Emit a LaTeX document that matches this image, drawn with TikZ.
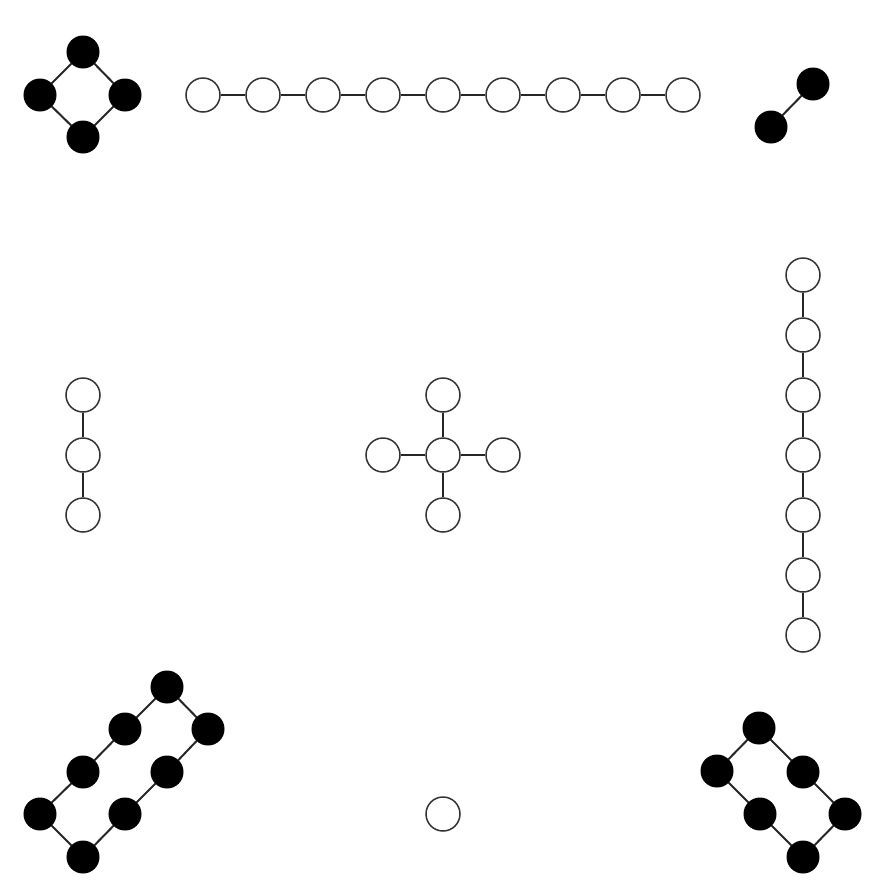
\documentclass[tikz,border=0pt]{standalone}
\usepackage{tikz}
\tikzstyle{wnode}=[circle,draw=black!80,fill=white,line width=0.45mm,inner sep=0pt,minimum size=10.2mm]
\tikzstyle{bnode}=[circle,draw=black,fill=black,line width=0.3mm,inner sep=0pt,minimum size=9.6mm]
\tikzstyle{gedge}=[line width=0.6mm,black!85]
\begin{document}
\begin{tikzpicture}[x=0.3mm,y=-0.3mm]
\useasboundingbox (0,0) rectangle (888,892);
% square
\node[bnode] (S1) at (83,52) {};
\node[bnode] (S2) at (40,95) {};
\node[bnode] (S3) at (125,95) {};
\node[bnode] (S4) at (83,137) {};
\draw[gedge](S1)--(S2);\draw[gedge](S2)--(S4);\draw[gedge](S4)--(S3);\draw[gedge](S3)--(S1);
% top chain
\node[wnode] (T1) at (203,95) {};
\node[wnode] (T2) at (263,95) {};
\node[wnode] (T3) at (323,95) {};
\node[wnode] (T4) at (383,95) {};
\node[wnode] (T5) at (443,95) {};
\node[wnode] (T6) at (503,95) {};
\node[wnode] (T7) at (563,95) {};
\node[wnode] (T8) at (623,95) {};
\node[wnode] (T9) at (683,95) {};
\draw[gedge](T1)--(T2);\draw[gedge](T2)--(T3);\draw[gedge](T3)--(T4);\draw[gedge](T4)--(T5);
\draw[gedge](T5)--(T6);\draw[gedge](T6)--(T7);\draw[gedge](T7)--(T8);\draw[gedge](T8)--(T9);
% pair
\node[bnode] (P1) at (813,84) {};
\node[bnode] (P2) at (771,127) {};
\draw[gedge](P1)--(P2);
% right column
\node[wnode] (R1) at (803,275) {};
\node[wnode] (R2) at (803,335) {};
\node[wnode] (R3) at (803,395) {};
\node[wnode] (R4) at (803,455) {};
\node[wnode] (R5) at (803,515) {};
\node[wnode] (R6) at (803,575) {};
\node[wnode] (R7) at (803,635) {};
\draw[gedge](R1)--(R2);\draw[gedge](R2)--(R3);\draw[gedge](R3)--(R4);
\draw[gedge](R4)--(R5);\draw[gedge](R5)--(R6);\draw[gedge](R6)--(R7);
% left column
\node[wnode] (L1) at (83,395) {};
\node[wnode] (L2) at (83,455) {};
\node[wnode] (L3) at (83,515) {};
\draw[gedge](L1)--(L2);\draw[gedge](L2)--(L3);
% cross
\node[wnode] (C) at (443,455) {};
\node[wnode] (CN) at (443,395) {};
\node[wnode] (CS) at (443,515) {};
\node[wnode] (CW) at (383,455) {};
\node[wnode] (CE) at (503,455) {};
\draw[gedge](C)--(CN);\draw[gedge](C)--(CS);\draw[gedge](C)--(CW);\draw[gedge](C)--(CE);
% octagon ring
\node[bnode] (O1) at (167,687) {};
\node[bnode] (O2) at (125,729) {};
\node[bnode] (O3) at (83,772) {};
\node[bnode] (O4) at (40,814) {};
\node[bnode] (O5) at (83,857) {};
\node[bnode] (O6) at (125,814) {};
\node[bnode] (O7) at (167,772) {};
\node[bnode] (O8) at (208,729) {};
\draw[gedge](O1)--(O2);\draw[gedge](O2)--(O3);\draw[gedge](O3)--(O4);\draw[gedge](O4)--(O5);
\draw[gedge](O5)--(O6);\draw[gedge](O6)--(O7);\draw[gedge](O7)--(O8);\draw[gedge](O8)--(O1);
% single
\node[wnode] (U) at (443,814) {};
% hexagon ring
\node[bnode] (H1) at (759,728) {};
\node[bnode] (H2) at (717,771) {};
\node[bnode] (H3) at (760,814) {};
\node[bnode] (H4) at (803,857) {};
\node[bnode] (H5) at (845,814) {};
\node[bnode] (H6) at (803,772) {};
\draw[gedge](H1)--(H2);\draw[gedge](H2)--(H3);\draw[gedge](H3)--(H4);
\draw[gedge](H4)--(H5);\draw[gedge](H5)--(H6);\draw[gedge](H6)--(H1);
\end{tikzpicture}
\end{document}
